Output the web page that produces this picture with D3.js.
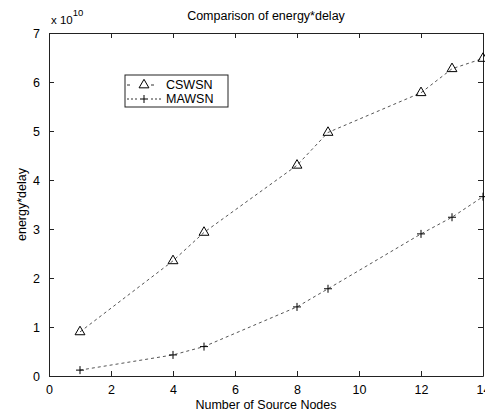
<!DOCTYPE html>
<html>
<head>
<meta charset="utf-8">
<script src="https://cdn.jsdelivr.net/npm/d3@7"></script>
<style>
  body { margin: 0; background: #fff; overflow: hidden; }
  text { font-family: "Liberation Sans", Arial, sans-serif; fill: #000; }
</style>
</head>
<body>
<div id="chart"></div>
<script>
// values, y in units of 1e10
var nodes = [1, 4, 5, 8, 9, 12, 13, 14];
var cswsn = [0.9, 2.35, 2.93, 4.3, 4.97, 5.78, 6.27, 6.48];
var mawsn = [0.12, 0.43, 0.6, 1.41, 1.78, 2.9, 3.24, 3.66];
var xTicks = [0, 2, 4, 6, 8, 10, 12, 14];
var yTicks = [0, 1, 2, 3, 4, 5, 6, 7];
var seriesNames = ["CSWSN", "MAWSN"];

var svgWidth = 485;
var svgHeight = 412;

var margin = { top: 33, right: 2, bottom: 36, left: 49 };
var chartWidth = svgWidth - margin.left - margin.right;
var chartHeight = svgHeight - margin.top - margin.bottom;

var svg = d3.select("#chart")
  .append("svg")
  .attr("width", svgWidth)
  .attr("height", svgHeight);

var chartGroup = svg.append("g")
  .attr("transform", `translate(${margin.left}, ${margin.top})`);

var xScale = d3.scaleLinear().domain([0, 14]).range([0, chartWidth]);
var yScale = d3.scaleLinear().domain([0, 7]).range([chartHeight, 0]);

// box with inward ticks on all sides
function styleAxis(g) {
  g.select(".domain").attr("stroke", "#222");
  g.selectAll(".tick line").attr("stroke", "#222");
  g.selectAll(".tick text").style("font-size", "12.5px").attr("fill", "#000");
}

chartGroup.append("g")
  .attr("transform", `translate(0, ${chartHeight})`)
  .call(d3.axisBottom(xScale).tickValues(xTicks).tickFormat(d3.format("d")).tickSize(-5).tickPadding(9).tickSizeOuter(0))
  .call(styleAxis);

chartGroup.append("g")
  .call(d3.axisLeft(yScale).tickValues(yTicks).tickFormat(d3.format("d")).tickSize(-5).tickPadding(9).tickSizeOuter(0))
  .call(styleAxis);

chartGroup.append("g")
  .call(d3.axisTop(xScale).tickValues(xTicks).tickSize(-5).tickFormat("").tickSizeOuter(0))
  .call(styleAxis);

chartGroup.append("g")
  .attr("transform", `translate(${chartWidth}, 0)`)
  .call(d3.axisRight(yScale).tickValues(yTicks).tickSize(-5).tickFormat("").tickSizeOuter(0))
  .call(styleAxis);

// lines
var line = d3.line()
  .x(d => xScale(d[0]))
  .y(d => yScale(d[1]));

var cData = nodes.map((n, i) => [n, cswsn[i]]);
var mData = nodes.map((n, i) => [n, mawsn[i]]);

chartGroup.append("path")
  .datum(cData)
  .attr("d", line)
  .attr("fill", "none")
  .attr("stroke", "#555")
  .attr("stroke-width", 1)
  .attr("stroke-dasharray", "3,3");

chartGroup.append("path")
  .datum(mData)
  .attr("d", line)
  .attr("fill", "none")
  .attr("stroke", "#555")
  .attr("stroke-width", 1)
  .attr("stroke-dasharray", "3,3");

var triangle = d3.symbol().type(d3.symbolTriangle).size(42);
var plus = "M-4,0H4M0,-4V4";

chartGroup.selectAll(".tri")
  .data(cData)
  .enter()
  .append("path")
  .attr("class", "tri")
  .attr("d", triangle)
  .attr("transform", d => `translate(${xScale(d[0])}, ${yScale(d[1])})`)
  .attr("fill", "none")
  .attr("stroke", "#000");

chartGroup.selectAll(".plus")
  .data(mData)
  .enter()
  .append("path")
  .attr("class", "plus")
  .attr("d", plus)
  .attr("transform", d => `translate(${xScale(d[0])}, ${yScale(d[1])})`)
  .attr("fill", "none")
  .attr("stroke", "#000");

// title, labels, exponent
svg.append("text")
  .attr("x", margin.left + chartWidth / 2)
  .attr("y", 20)
  .attr("text-anchor", "middle")
  .style("font-size", "12.5px")
  .text("Comparison of energy*delay");

svg.append("text")
  .attr("x", margin.left + chartWidth / 2)
  .attr("y", 409)
  .attr("text-anchor", "middle")
  .style("font-size", "12.5px")
  .text("Number of Source Nodes");

svg.append("text")
  .attr("transform", `translate(26, ${margin.top + chartHeight / 2}) rotate(-90)`)
  .attr("text-anchor", "middle")
  .style("font-size", "12.5px")
  .text("energy*delay");

var expo = svg.append("text")
  .attr("x", 51)
  .attr("y", 24)
  .style("font-size", "11.5px");
expo.append("tspan").text("x 10");
expo.append("tspan").attr("dy", -8).style("font-size", "9.5px").text("10");

// legend
var legend = svg.append("g").attr("transform", "translate(125, 75)");
legend.append("rect")
  .attr("width", 103)
  .attr("height", 32)
  .attr("fill", "#fff")
  .attr("stroke", "#222");

var rows = [
  { name: seriesNames[0], y: 10, dash: "3,9", marker: triangle() },
  { name: seriesNames[1], y: 24, dash: "2,2", marker: plus }
];
rows.forEach(function(r) {
  legend.append("line")
    .attr("x1", 2).attr("x2", 36)
    .attr("y1", r.y).attr("y2", r.y)
    .attr("stroke", "#333")
    .attr("stroke-dasharray", r.dash);
  legend.append("rect")
    .attr("x", 13).attr("y", r.y - 5).attr("width", 12).attr("height", 10)
    .attr("fill", "#fff");
  legend.append("path")
    .attr("d", r.marker)
    .attr("transform", `translate(19, ${r.y})`)
    .attr("fill", "none")
    .attr("stroke", "#000");
  legend.append("text")
    .attr("x", 41)
    .attr("y", r.y + 4)
    .style("font-size", "12.5px")
    .text(r.name);
});
</script>
</body>
</html>
